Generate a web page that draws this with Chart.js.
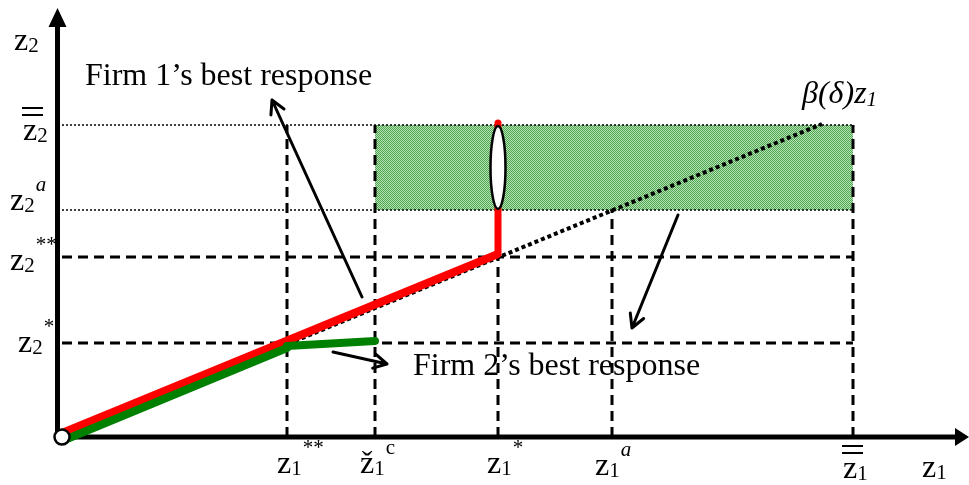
<!DOCTYPE html>
<html>
<head>
<meta charset="utf-8">
<script src="https://cdn.jsdelivr.net/npm/chart.js@4.4.1/dist/chart.umd.min.js"></script>
<style>
  html, body { margin: 0; padding: 0; background: #fff; }
  #wrap { width: 969px; height: 485px; }
</style>
</head>
<body>
<div id="wrap"><canvas id="duopoly" width="969" height="485"></canvas></div>
<script>
// marked levels of z1: z1**, ž1c, z1*, z1a, upper bound of z1
const xMarks = [22.5, 31.3, 43.6, 55.0, 79.1];
const xMarkLabels = [['z', '1', '**'], ['ž', '1', 'c'], ['z', '1', '*'], ['z', '1', 'a'], ['z', '1', '=']];
// marked levels of z2: z2*, z2**, z2a, upper bound of z2
const yMarks = [9.4, 18.0, 22.7, 31.2];
const yMarkLabels = [['z', '2', '*'], ['z', '2', '**'], ['z', '2', 'a'], ['z', '2', '=']];
// how far up each vertical guide goes (index into yMarks)
const xGuideTop = [3, 3, 1, 2, 3];

// z2 = beta(delta) * z1
const betaLine = [[0, 0], [76.0, 31.3]];
// best responses
const firm1Line = [[0, 0.4], [43.6, 18.3]];
const firm1Jump = [[43.6, 18.3], [43.6, 31.4]];
const firm2Line = [[0, -0.4], [22.5, 8.9]];
const firm2Flat = [[22.5, 9.1], [31.3, 9.6]];

// annotation arrows: [from, to]
const arrows = [
  [[30.0, 14.0], [21.0, 33.7]],
  [[27.1, 8.5], [32.5, 7.3]],
  [[61.6, 22.2], [57.0, 10.9]]
];
const notes = [
  { text: 'Firm 1’s best response', at: [2.3, 35.2] },
  { text: 'Firm 2’s best response', at: [35.1, 6.2] }
];
const betaLabelAt = [74.0, 33.4];

const pts = arr => arr.map(p => ({ x: p[0], y: p[1] }));
const SERIF = '"Liberation Serif", "Times New Roman", serif';

// checkered green fill for the shaded region
const hatch = document.createElement('canvas');
hatch.width = hatch.height = 2;
const hc = hatch.getContext('2d');
hc.fillStyle = '#b6e0b6';
hc.fillRect(0, 0, 2, 2);
hc.fillStyle = '#4fa84f';
hc.fillRect(0, 0, 1, 1);
hc.fillRect(1, 1, 1, 1);

function guide(data, thin) {
  return {
    data: pts(data),
    showLine: true,
    borderColor: '#000',
    borderWidth: thin ? 1.5 : 3,
    borderDash: thin ? [2, 2] : [10, 6],
    pointRadius: 0,
    order: 10
  };
}

const guides = [];
yMarks.forEach((v, i) => guides.push(guide([[0, v], [xMarks[4], v]], i >= 2)));
xMarks.forEach((v, i) => guides.push(guide([[v, 0], [v, yMarks[xGuideTop[i]]]], false)));

// z with subscript and superscript (or a double bar when sup is '=')
function mathLabel(ctx, x, base, parts) {
  const [main, sub, sup] = parts;
  ctx.fillStyle = '#000';
  ctx.textBaseline = 'alphabetic';
  ctx.textAlign = 'left';
  ctx.font = '32px ' + SERIF;
  ctx.fillText(main, x, base);
  const w = ctx.measureText(main).width;
  ctx.font = '21px ' + SERIF;
  ctx.fillText(sub, x + w, base + 2);
  const w2 = ctx.measureText(sub).width;
  if (sup === '=') {
    ctx.fillRect(x - 1, base - 33, 21, 2);
    ctx.fillRect(x - 1, base - 26, 21, 2);
  } else {
    ctx.font = (sup === 'a' ? 'italic ' : '') + '21px ' + SERIF;
    ctx.fillText(sup, x + w + w2 + 1, base - 19);
  }
}

function arrow(ctx, a, b) {
  const ang = Math.atan2(b[1] - a[1], b[0] - a[0]);
  ctx.save();
  ctx.strokeStyle = '#000';
  ctx.lineWidth = 3;
  ctx.lineCap = 'round';
  ctx.beginPath();
  ctx.moveTo(a[0], a[1]);
  ctx.lineTo(b[0], b[1]);
  for (const s of [-1, 1]) {
    ctx.moveTo(b[0], b[1]);
    ctx.lineTo(b[0] - 15 * Math.cos(ang + s * 0.5), b[1] - 15 * Math.sin(ang + s * 0.5));
  }
  ctx.stroke();
  ctx.restore();
}

const diagram = {
  id: 'diagram',
  beforeDatasetsDraw(chart) {
    const { ctx, scales: { x, y } } = chart;
    // shaded region
    const x0 = x.getPixelForValue(xMarks[1]), x1 = x.getPixelForValue(xMarks[4]);
    const y0 = y.getPixelForValue(yMarks[3]), y1 = y.getPixelForValue(yMarks[2]);
    ctx.save();
    ctx.fillStyle = ctx.createPattern(hatch, 'repeat');
    ctx.fillRect(x0, y0, x1 - x0, y1 - y0);

    // axes with arrow heads
    const ox = x.getPixelForValue(-0.45), oy = y.getPixelForValue(0);
    ctx.fillStyle = '#000';
    ctx.fillRect(ox - 2.5, 26, 5, oy - 26);
    ctx.fillRect(ox, oy - 2.5, 958 - ox, 5);
    ctx.beginPath();
    ctx.moveTo(ox, 8);
    ctx.lineTo(ox - 9, 27);
    ctx.lineTo(ox + 9, 27);
    ctx.closePath();
    ctx.moveTo(969, oy);
    ctx.lineTo(955, oy - 9);
    ctx.lineTo(955, oy + 9);
    ctx.closePath();
    ctx.fill();
    ctx.restore();
  },
  afterDatasetsDraw(chart) {
    const { ctx, scales: { x, y } } = chart;
    const P = p => [x.getPixelForValue(p[0]), y.getPixelForValue(p[1])];
    ctx.save();

    // open interval on firm 1's vertical jump
    const cx = x.getPixelForValue(firm1Jump[0][0]);
    const top = y.getPixelForValue(yMarks[3]), bot = y.getPixelForValue(yMarks[2]);
    ctx.beginPath();
    ctx.ellipse(cx, (top + bot) / 2, 7.5, (bot - top) / 2 - 1, 0, 0, Math.PI * 2);
    ctx.fillStyle = '#fff';
    ctx.fill();
    ctx.lineWidth = 2.5;
    ctx.strokeStyle = '#000';
    ctx.stroke();

    arrows.forEach(a => arrow(ctx, P(a[0]), P(a[1])));

    ctx.fillStyle = '#000';
    ctx.font = '32px ' + SERIF;
    notes.forEach(n => {
      const p = P(n.at);
      ctx.fillText(n.text, p[0], p[1]);
    });

    // beta(delta) z1
    const bp = P(betaLabelAt);
    ctx.font = 'italic 32px ' + SERIF;
    ctx.fillText('β(δ)z', bp[0], bp[1]);
    const bw = ctx.measureText('β(δ)z').width;
    ctx.font = 'italic 21px ' + SERIF;
    ctx.fillText('1', bp[0] + bw, bp[1] + 3);

    // axis labels
    const oy = y.getPixelForValue(0);
    const xOff = [-10, -15, -11, -17, -10];
    const xBase = [36, 36, 36, 38, 41];
    xMarks.forEach((v, i) => mathLabel(ctx, x.getPixelForValue(v) + xOff[i], oy + xBase[i], xMarkLabels[i]));
    const yLeft = [18, 10, 10, 23];
    const yBase = [9, 13, 0, 15];
    yMarks.forEach((v, i) => mathLabel(ctx, yLeft[i], y.getPixelForValue(v) + yBase[i], yMarkLabels[i]));
    mathLabel(ctx, 922, oy + 40, ['z', '1', '']);
    mathLabel(ctx, 14, 50, ['z', '2', '']);
    ctx.restore();
  }
};

new Chart(document.getElementById('duopoly'), {
  type: 'scatter',
  data: {
    datasets: [
      {
        data: [{ x: 0, y: 0 }],
        pointRadius: 7.5,
        pointBackgroundColor: '#fff',
        pointBorderColor: '#000',
        pointBorderWidth: 2.5,
        order: 0
      },
      {
        data: pts(firm2Flat),
        showLine: true,
        borderColor: '#008000',
        borderWidth: 8,
        borderCapStyle: 'round',
        pointRadius: 0,
        order: 1
      },
      {
        data: pts(firm2Line),
        showLine: true,
        borderColor: '#008000',
        borderWidth: 8,
        borderCapStyle: 'round',
        pointRadius: 0,
        order: 2
      },
      {
        data: pts(firm1Jump),
        showLine: true,
        borderColor: '#ff0000',
        borderWidth: 7,
        borderCapStyle: 'round',
        pointRadius: 0,
        order: 3
      },
      {
        data: pts(firm1Line),
        showLine: true,
        borderColor: '#ff0000',
        borderWidth: 8,
        borderCapStyle: 'butt',
        pointRadius: 0,
        order: 4
      },
      {
        data: pts(betaLine),
        showLine: true,
        borderColor: '#000',
        borderWidth: 4,
        borderDash: [4, 3],
        pointRadius: 0,
        order: 5
      },
      ...guides
    ]
  },
  options: {
    responsive: false,
    animation: false,
    events: [],
    layout: { padding: 0, autoPadding: false },
    scales: {
      x: { type: 'linear', min: -6.2, max: 90.7, display: false },
      y: { type: 'linear', min: -4.8, max: 43.7, display: false }
    },
    plugins: {
      legend: { display: false },
      tooltip: { enabled: false }
    }
  },
  plugins: [diagram]
});
</script>
</body>
</html>
